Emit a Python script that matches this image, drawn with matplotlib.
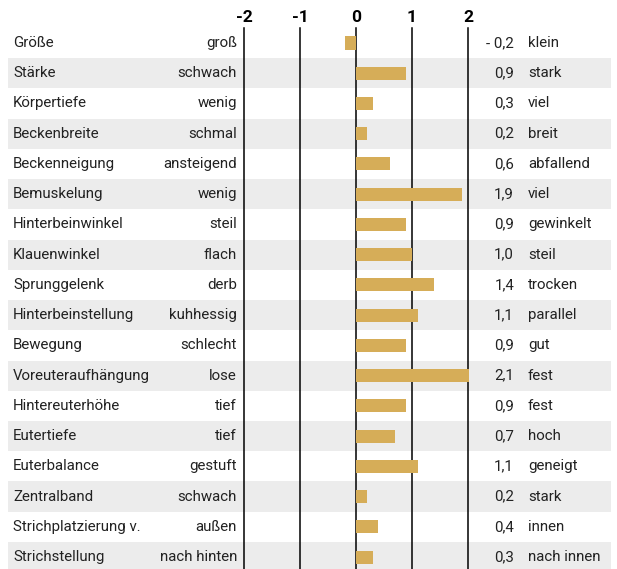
import matplotlib.pyplot as plt
import matplotlib.patches as mpatches

plt.rcParams['font.family'] = ['Roboto', 'DejaVu Sans']

# Merkmale, linke / rechte Beschreibung und Werte
merkmale = ['Größe', 'Stärke', 'Körpertiefe', 'Beckenbreite', 'Beckenneigung',
            'Bemuskelung', 'Hinterbeinwinkel', 'Klauenwinkel', 'Sprunggelenk',
            'Hinterbeinstellung', 'Bewegung', 'Voreuteraufhängung',
            'Hintereuterhöhe', 'Eutertiefe', 'Euterbalance', 'Zentralband',
            'Strichplatzierung v.', 'Strichstellung']
links = ['groß', 'schwach', 'wenig', 'schmal', 'ansteigend', 'wenig', 'steil',
         'flach', 'derb', 'kuhhessig', 'schlecht', 'lose', 'tief', 'tief',
         'gestuft', 'schwach', 'außen', 'nach hinten']
rechts = ['klein', 'stark', 'viel', 'breit', 'abfallend', 'viel', 'gewinkelt',
          'steil', 'trocken', 'parallel', 'gut', 'fest', 'fest', 'hoch',
          'geneigt', 'stark', 'innen', 'nach innen']
werte = [-0.2, 0.9, 0.3, 0.2, 0.6, 1.9, 0.9, 1.0, 1.4, 1.1, 0.9, 2.1, 0.9,
         0.7, 1.1, 0.2, 0.4, 0.3]
skala = [-2, -1, 0, 1, 2]

W, H = 617, 569
fig = plt.figure(figsize=(W / 100, H / 100), dpi=100)
ax = fig.add_axes([0, 0, 1, 1])

# pixel -> data mapping
px_unit = 56.0
x0_px = 356
row_px = 30.24
y0_px = 43
ax.set_xlim(-x0_px / px_unit, (W - x0_px) / px_unit)
ax.set_ylim((H - y0_px) / row_px, -y0_px / row_px)
ax.axis('off')


def px2x(p):
    return (p - x0_px) / px_unit


n = len(merkmale)
# zebra background
for i in range(n):
    if i % 2 == 1:
        ax.add_patch(mpatches.Rectangle((px2x(8), i - 0.5), px2x(611) - px2x(8), 1,
                                        color='#ececec', lw=0, zorder=0))

# vertical lines and scale labels
y_bottom = (H - y0_px) / row_px
for s in skala:
    ax.plot([s, s], [-0.5, y_bottom], color='black', lw=1.1, zorder=1)
    ax.text(s, (18 - y0_px) / row_px, str(s), ha='center', va='center',
            fontsize=12.5, fontweight='bold', color='black')

bars = ax.barh(range(n), werte, height=0.43, color='#d6ad58', zorder=2)
# bars stop at the end of the scale
clip = mpatches.Rectangle((skala[0], -1), skala[-1] - skala[0] + 0.02, n + 2,
                          transform=ax.transData, visible=False)
ax.add_patch(clip)
for b in bars:
    b.set_clip_path(clip)

txt = '#222222'
fs = 10.8
for i in range(n):
    ax.text(px2x(13), i, merkmale[i], ha='left', va='center', fontsize=fs, color=txt)
    ax.text(px2x(237), i, links[i], ha='right', va='center', fontsize=fs, color=txt)
    v = werte[i]
    s = ('- ' if v < 0 else '') + f'{abs(v):.1f}'.replace('.', ',')
    ax.text(px2x(514), i, s, ha='right', va='center', fontsize=fs, color=txt)
    ax.text(px2x(528), i, rechts[i], ha='left', va='center', fontsize=fs, color=txt)

fig.savefig('out.png', dpi=100)
